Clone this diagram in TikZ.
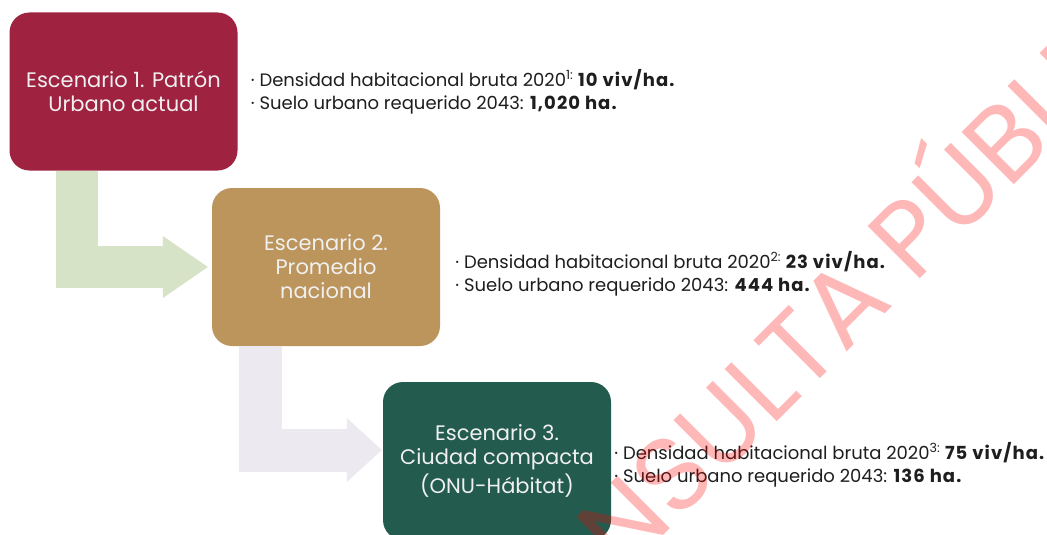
\documentclass[tikz,border=0pt]{standalone}
\usepackage{fontspec}
\setmainfont{Poppins}
\usetikzlibrary{positioning}

\definecolor{guinda}{HTML}{9F2241}
\definecolor{dorado}{HTML}{BC955C}
\definecolor{verde}{HTML}{235B4E}
\definecolor{verdeclaro}{HTML}{D7E3C6}
\definecolor{grisclaro}{HTML}{ECEAF0}
\definecolor{texto}{HTML}{1E1E1E}

\newcommand{\valor}[1]{{\bfseries\addfontfeatures{LetterSpace=6}#1}}

\begin{document}
\begin{tikzpicture}[x=1pt, y=-1pt,
        escenario/.style={rectangle, rounded corners=20pt, minimum width=228pt, minimum height=158pt,
                          text=white!94!black, align=center, font=\fontsize{21}{24}\selectfont},
        datos/.style={inner sep=0pt, align=left, text=texto, font=\fontsize{18}{23}\selectfont},
        barra/.style={line width=42pt}
    ]
    \path[use as bounding box, clip] (0,0) rectangle (1047,535);
    \fill[white] (0,0) rectangle (1047,535);

    \node[escenario, fill=guinda] (e1) at (123.5,91.5) {Escenario 1. Patrón\\Urbano actual};
    \node[escenario, fill=dorado] (e2) at (326,267) {Escenario 2.\\Promedio\\nacional};
    \node[escenario, fill=verde] (e3) at (497,461) {Escenario 3.\\Ciudad compacta\\[3pt](ONU-Hábitat)};

    \coordinate (a1) at ([xshift=68pt]e1.south west);
    \coordinate (p1) at ([xshift=-4pt]e2.west);
    \draw[barra, verdeclaro] (a1) |- ([xshift=-45pt]p1);
    \fill[verdeclaro] ([xshift=-45pt,yshift=31pt]p1) -- (p1) -- ([xshift=-45pt,yshift=-31pt]p1) -- cycle;

    \coordinate (a2) at ([xshift=48.5pt]e2.south west);
    \coordinate (p2) at ([xshift=-1pt,yshift=11pt]e3.west);
    \draw[barra, line width=43pt, grisclaro] (a2) |- ([xshift=-35pt]p2);
    \fill[grisclaro] ([xshift=-35pt,yshift=32pt]p2) -- (p2) -- ([xshift=-35pt,yshift=-32pt]p2) -- cycle;

    \node[datos, right=13pt of e1] (d1)
        {· Densidad habitacional bruta 2020\textsuperscript{1:} \valor{10 viv/ha.}\\
         · Suelo urbano requerido 2043: \valor{1,020 ha.}};
    \node[datos, right=15pt of e2, yshift=-6.5pt] (d2)
        {· Densidad habitacional bruta 2020\textsuperscript{2:} \valor{23 viv/ha.}\\
         · Suelo urbano requerido 2043: \valor{444 ha.}};
    \node[datos, right=3pt of e3, yshift=-3.5pt] (d3)
        {· Densidad habitacional bruta 2020\textsuperscript{3:} \valor{75 viv/ha.}\\
         · Suelo urbano requerido 2043: \valor{136 ha.}};

    \node[rotate=45, text=red, opacity=0.28, font=\fontsize{106}{106}\selectfont] (marca)
        at (826,304) {CONSULTA PÚBLICA};
\end{tikzpicture}
\end{document}
